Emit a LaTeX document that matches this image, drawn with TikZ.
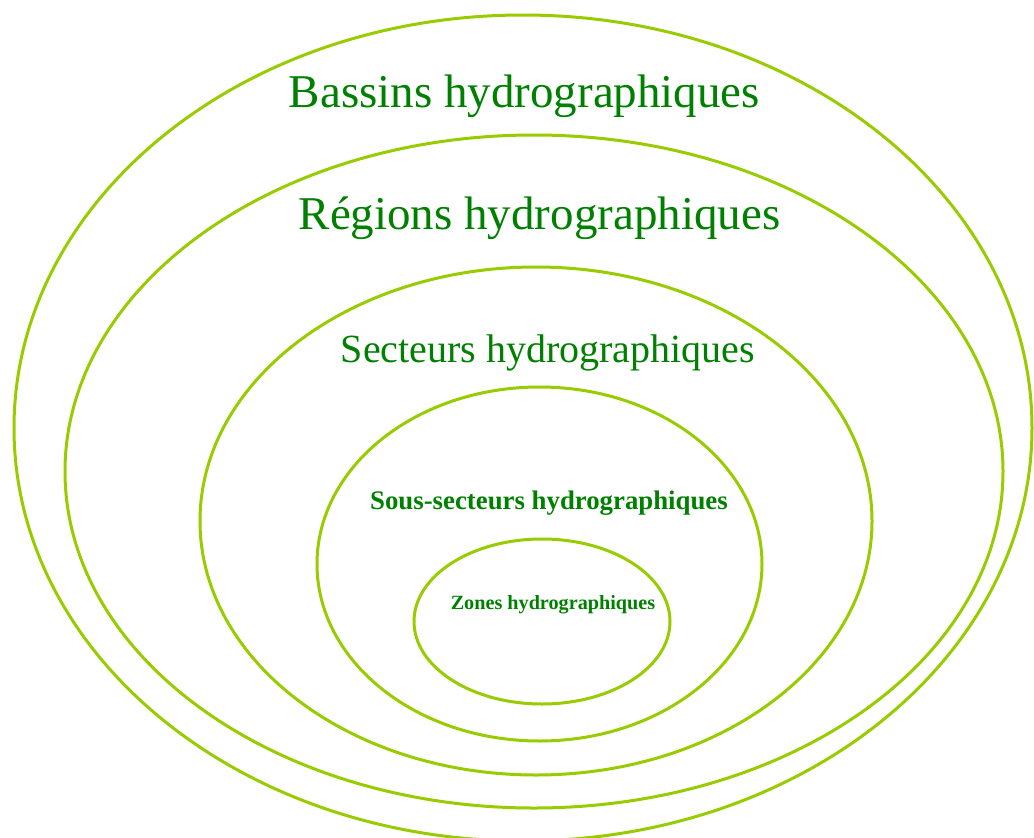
\documentclass[tikz,border=0pt]{standalone}
\usepackage{fontspec}
\setmainfont{Liberation Serif}
\definecolor{ringgreen}{RGB}{153,204,0}
\definecolor{textgreen}{RGB}{0,128,0}
\tikzset{
    ring/.style = {
        draw = ringgreen,
        line width = 3pt,
        },
    level/.style = {
        text = textgreen,
        anchor = base,
        inner sep = 0pt,
        },
    level big/.style = {
        level,
        font = \fontsize{47}{50}\selectfont,
        },
    level mid/.style = {
        level,
        font = \fontsize{40}{44}\selectfont,
        },
    level small/.style = {
        level,
        font = \fontsize{26.8}{30}\selectfont\bfseries,
        },
    level tiny/.style = {
        level,
        font = \fontsize{20.2}{23}\selectfont\bfseries,
        }
}
\begin{document}
\begin{tikzpicture}[x=1pt, y=-1pt]
    \useasboundingbox (0,0) rectangle (1034,838);
    \clip (0,0) rectangle (1034,838);

    % nested rings
    \coordinate (bassin c) at (523,428);
    \coordinate (region c) at (534,471.5);
    \coordinate (secteur c) at (536,521);
    \coordinate (sous c) at (539.5,564);
    \coordinate (zone c) at (542,621.5);
    \draw[ring] (bassin c) ellipse [x radius=509pt, y radius=413pt];
    \draw[ring] (region c) ellipse [x radius=469pt, y radius=336.5pt];
    \draw[ring] (secteur c) ellipse [x radius=336pt, y radius=254pt];
    \draw[ring] (sous c) ellipse [x radius=222.5pt, y radius=177pt];
    \draw[ring] (zone c) ellipse [x radius=128pt, y radius=82.5pt];

    % labels
    \node[level big] (bassin) at (524.5,107) {Bassins hydrographiques};
    \node[level big] (region) at (539.5,229) {Régions hydrographiques};
    \node[level mid] (secteur) at (548,362) {Secteurs hydrographiques};
    \node[level small] (sous) at (549,509) {Sous-secteurs hydrographiques};
    \node[level tiny] (zone) at (553,609) {Zones hydrographiques};
\end{tikzpicture}
\end{document}
